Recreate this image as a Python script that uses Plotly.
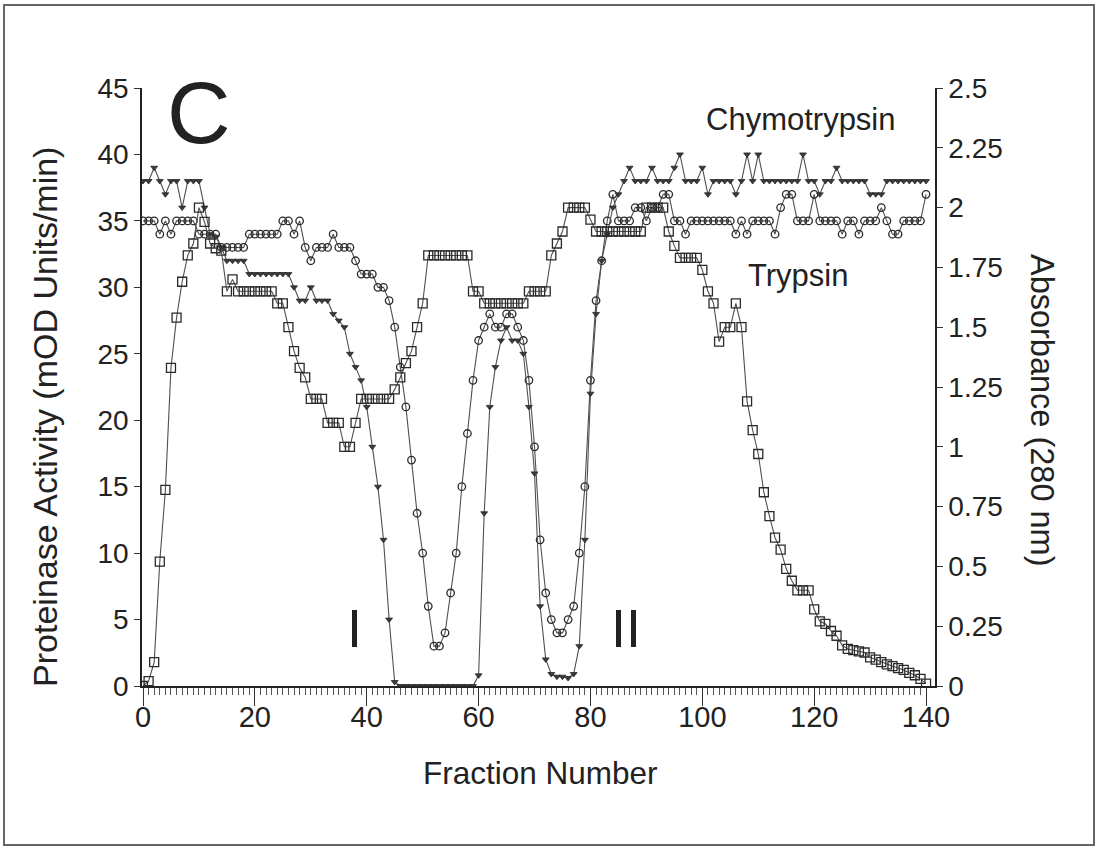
import plotly.graph_objects as go

fractions = list(range(0, 141))

# Absorbance (280 nm) - open squares, right axis
absorbance = [
    0.0, 0.02, 0.10, 0.52, 0.82, 1.33, 1.54, 1.69, 1.80, 1.85,
    2.00, 1.94, 1.85, 1.83, 1.82, 1.65, 1.70, 1.65, 1.65, 1.65,
    1.65, 1.65, 1.65, 1.65, 1.60, 1.60, 1.50, 1.40, 1.33, 1.29,
    1.20, 1.20, 1.20, 1.10, 1.10, 1.10, 1.00, 1.00, 1.10, 1.20,
    1.20, 1.20, 1.20, 1.20, 1.20, 1.24, 1.29, 1.35, 1.40, 1.50,
    1.60, 1.80, 1.80, 1.80, 1.80, 1.80, 1.80, 1.80, 1.80, 1.65,
    1.65, 1.60, 1.60, 1.60, 1.60, 1.60, 1.60, 1.60, 1.60, 1.65,
    1.65, 1.65, 1.65, 1.80, 1.85, 1.90, 2.00, 2.00, 2.00, 2.00,
    1.95, 1.90, 1.90, 1.90, 1.90, 1.90, 1.90, 1.90, 1.90, 1.90,
    2.00, 2.00, 2.00, 2.00, 1.90, 1.84, 1.79, 1.79, 1.79, 1.79,
    1.74, 1.65, 1.60, 1.44, 1.50, 1.50, 1.60, 1.50, 1.19, 1.07,
    0.97, 0.81, 0.71, 0.62, 0.57, 0.49, 0.44, 0.40, 0.40, 0.40,
    0.32, 0.27, 0.26, 0.23, 0.21, 0.17, 0.155, 0.15, 0.145, 0.14,
    0.12, 0.11, 0.10, 0.09, 0.083, 0.075, 0.067, 0.055, 0.045, 0.03,
    0.01,
]

# Chymotrypsin activity (mOD units/min) - triangles, left axis
chymotrypsin = [
    38, 38, 39, 38, 37, 38, 38, 36, 38, 38,
    38, 36, 34, 33.8, 33, 32, 32, 32, 32, 31,
    31, 31, 31, 31, 31, 31, 31, 30, 29, 29,
    30, 29, 29, 29, 28, 27.5, 27, 25, 24, 23,
    21, 18, 15, 11, 5, 0.3, 0, 0, 0, 0,
    0, 0, 0, 0, 0, 0, 0, 0, 0, 0,
    0.8, 13, 21, 24, 26, 27, 26, 26, 25, 21,
    16, 6, 2, 0.9, 0.7, 0.7, 0.6, 0.9, 3, 11,
    22, 28, 32, 34, 36, 37, 38, 39, 38, 38,
    38, 39, 38, 38, 38, 39, 40, 38, 38, 38,
    39, 37, 38, 38, 38, 38, 37, 38, 40, 38,
    40, 38, 38, 38, 38, 38, 38, 38, 40, 38,
    38, 37, 38, 38, 39, 38, 38, 38, 38, 38,
    37, 37, 37, 38, 38, 38, 38, 38, 38, 38,
    38,
]

# Trypsin activity (mOD units/min) - open circles, left axis
trypsin = [
    35, 35, 35, 34, 35, 34, 35, 35, 35, 35,
    34, 34, 34, 34, 33, 33, 33, 33, 33, 34,
    34, 34, 34, 34, 34, 35, 35, 34, 35, 33,
    32, 33, 33, 33, 34, 33, 33, 33, 32, 31,
    31, 31, 30, 30, 29, 27, 24, 21, 17, 13,
    10, 6, 3, 3, 4, 7, 10, 15, 19, 23,
    26, 27, 28, 27, 27, 28, 28, 27, 26, 23,
    18, 11, 7, 5, 4, 4, 5, 6, 10, 15,
    23, 29, 32, 35, 37, 35, 35, 35, 36, 36,
    35, 36, 36, 37, 37, 35, 35, 34, 35, 35,
    35, 35, 35, 35, 35, 35, 34, 35, 34, 35,
    35, 35, 35, 34, 36, 37, 37, 35, 35, 35,
    37, 35, 35, 35, 35, 34, 35, 35, 34, 35,
    35, 35, 36, 35, 34, 34, 35, 35, 35, 35,
    37,
]

left_ticks = list(range(0, 50, 5))
right_ticks = [0, 0.25, 0.5, 0.75, 1, 1.25, 1.5, 1.75, 2, 2.25, 2.5]
right_labels = ["0", "0.25", "0.5", "0.75", "1", "1.25", "1.5", "1.75", "2", "2.25", "2.5"]
x_ticks = list(range(0, 160, 20))

FONT = "Liberation Sans, Arial, Helvetica, sans-serif"
INK = "#2a2a2a"
LINE = "#505050"

fig = go.Figure()

fig.add_trace(go.Scatter(
    x=fractions, y=absorbance, yaxis="y2", mode="lines+markers",
    line=dict(color=LINE, width=1.1),
    marker=dict(symbol="square-open", size=9, color=INK, line=dict(width=1.3)),
    name="Absorbance", showlegend=False,
))
fig.add_trace(go.Scatter(
    x=fractions, y=trypsin, mode="lines+markers",
    line=dict(color=LINE, width=1.1),
    marker=dict(symbol="circle-open", size=7.5, color=INK, line=dict(width=1.3)),
    name="Trypsin", showlegend=False,
))
fig.add_trace(go.Scatter(
    x=fractions, y=chymotrypsin, mode="lines+markers",
    line=dict(color=LINE, width=1.1),
    marker=dict(symbol="triangle-down", size=6, color="#3a3a3a",
                line=dict(color=INK, width=0.8)),
    name="Chymotrypsin", showlegend=False,
))

yfont = dict(family=FONT, size=28, color="#222")
xfont = dict(family=FONT, size=29, color="#222")

fig.update_layout(
    width=1098, height=849,
    margin=dict(l=142, r=163, t=88, b=163, pad=0),
    paper_bgcolor="white", plot_bgcolor="white",
    font=dict(family=FONT, color="#222"),
    xaxis=dict(
        range=[-0.18, 141.6], tickmode="array", tickvals=x_ticks,
        ticks="outside", ticklen=18, tickwidth=1.2, tickcolor="#333",
        minor=dict(tickmode="array", tickvals=fractions, ticks="outside",
                   ticklen=7, tickwidth=1, tickcolor="#555"),
        showline=True, linecolor="#222", linewidth=1.5,
        showgrid=False, zeroline=False, tickfont=xfont,
        ticklabelstandoff=-14,
    ),
    yaxis=dict(
        range=[0, 45], tickmode="array", tickvals=left_ticks,
        ticks="outside", ticklen=6, tickwidth=1.2, tickcolor="#333",
        showline=True, linecolor="#222", linewidth=1.5,
        showgrid=False, zeroline=False, tickfont=yfont,
    ),
    yaxis2=dict(
        range=[0, 2.5], overlaying="y", side="right", anchor="x",
        tickmode="array", tickvals=right_ticks, ticktext=right_labels,
        ticks="outside", ticklen=6, tickwidth=1.2, tickcolor="#333",
        showline=True, linecolor="#222", linewidth=1.5,
        showgrid=False, zeroline=False, tickfont=yfont,
    ),
)

def ann(text, x, y, size, angle=0):
    fig.add_annotation(text=text, x=x, y=y, xref="paper", yref="paper",
                       showarrow=False, textangle=angle,
                       font=dict(family=FONT, size=size, color="#222"),
                       xanchor="center", yanchor="middle")

ann("C", 0.0719, 0.959, 88)
ann("Chymotrypsin", 0.831, 0.9465, 31)
ann("Trypsin", 0.827, 0.687, 31)
ann("I", 0.2686, 0.097, 54)
ann("II", 0.610, 0.097, 54)
ann("Fraction Number", 0.503, -0.1455, 31.5)
ann("Proteinase Activity (mOD Units/min)", -0.1223, 0.45, 34, -90)
ann("Absorbance (280 nm)", 1.135, 0.4615, 32.5, 90)

fig.add_shape(type="rect", xref="paper", yref="paper",
              x0=-0.174, x1=1.2005, y0=-0.2659, y1=1.1388,
              line=dict(color="#666", width=2), fillcolor="rgba(0,0,0,0)")

fig.write_html("out.html", config={"displayModeBar": False},
               post_script="document.body.style.margin='0px';")
